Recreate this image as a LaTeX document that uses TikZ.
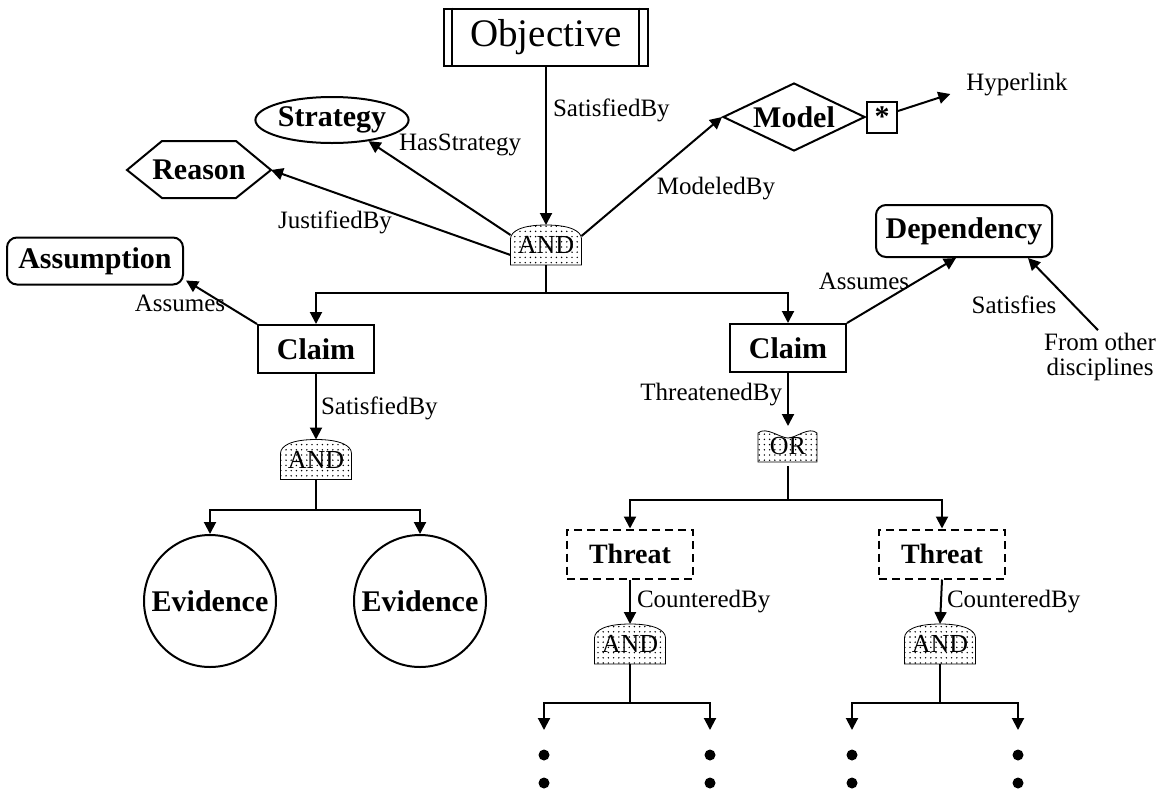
\documentclass[tikz,border=0pt]{standalone}
\usepackage{fontspec}
\setmainfont{Liberation Serif}
\usetikzlibrary{arrows.meta,shapes.geometric,patterns.meta,calc,backgrounds}
\tikzset{
  arr/.style={-{Triangle[length=6pt,width=6pt]}},
  lab/.style={font=\fontsize{12.5}{14}\selectfont, inner sep=1pt},
  ttl/.style={font=\fontsize{15}{17}\selectfont\bfseries},
  box/.style={draw, ttl, inner sep=0pt},
  gate/.style={font=\fontsize{13}{15}\selectfont, minimum width=34.5pt, minimum height=19pt, inner sep=0pt},
  dotfill/.style={pattern={Dots[radius=0.4pt,distance=2.6pt]}},
  dotnode/.style={circle, fill, inner sep=0pt, minimum size=5.5pt},
}
\newcommand{\andgate}[1]{%
  \begin{scope}[on background layer]
  \draw[dotfill] (#1.south west) -- ($(#1.south west)+(0,13pt)$)
     .. controls +(0,4pt) and +(-12pt,0) .. (#1.north)
     .. controls +(12pt,0) and +(0,4pt) .. ($(#1.south east)+(0,13pt)$)
     -- (#1.south east) -- cycle;
  \end{scope}}
\begin{document}
\begin{tikzpicture}[x=0.5pt,y=-0.5pt,line width=1pt]
\useasboundingbox (0,0) rectangle (1156,793);

% Objective
\node[draw, minimum width=102pt, minimum height=28.5pt, inner sep=0pt,
      font=\fontsize{19.5}{22}\selectfont] (obj) at (546,37) {Objective};
\draw ([xshift=4.5pt]obj.north west) -- ([xshift=4.5pt]obj.south west);
\draw ([xshift=-5pt]obj.north east) -- ([xshift=-5pt]obj.south east);

% top AND
\node[gate] (a1) at (546,245) {AND};
\andgate{a1}
\draw[arr] (obj.south) -- (a1.north);
\node[lab, anchor=west] (lsat1) at (550,110) {SatisfiedBy};

% Strategy
\node[draw, ellipse, ttl, minimum width=72.5pt, minimum height=23pt, inner sep=0pt] (strategy) at (332,120) {Strategy};
\draw[arr] ([yshift=5pt]a1.west) -- (strategy.-30);
\node[lab, anchor=west] (lhas) at (396,145) {HasStrategy};

% Reason
\node[ttl, inner sep=0pt] (reason) at (199,170) {Reason};
\draw (127,170) -- (162,141) -- (236,141) -- (271,170) -- (236,198) -- (162,198) -- cycle;
\coordinate (reasonR) at (271,170);
\draw[arr] ([yshift=-5pt]a1.west) -- (reasonR);
\node[lab] (ljust) at (335,222) {JustifiedBy};

% Model
\node[draw, diamond, ttl, minimum width=71pt, minimum height=34pt, inner sep=0pt, aspect=2] (model) at (794,117) {Model};
\node[draw, font=\fontsize{15}{17}\selectfont\bfseries, minimum width=15pt, minimum height=15.5pt, inner sep=0pt, anchor=west] (star) at (model.east) {*};
\draw[arr] ([yshift=4.5pt]a1.east) -- (model.west);
\node[lab] (lmod) at (716,189) {ModeledBy};
\node[lab] (hyper) at (1017,85) {Hyperlink};
\draw[arr] ([yshift=3pt]star.east) -- ([shift={(-6.5pt,-4.5pt)}]hyper.west);

% Claims
\node[box, minimum width=58pt, minimum height=24pt] (c1) at (316,349) {Claim};
\node[box, minimum width=58pt, minimum height=24pt] (c2) at (788,348) {Claim};
\coordinate (j1) at (546,293);
\draw (a1.south) -- (j1);
\draw[arr] (j1) -| (c1.north);
\draw[arr] (j1) -| (c2.north);

% Assumption
\node[box, rounded corners=5pt, minimum width=88pt, minimum height=23.5pt] (assum) at (95,261) {Assumption};
\draw[arr] (c1.north west) -- ([shift={(1pt,2.5pt)}]assum.south east);
\node[lab] (lassL) at (180,303) {Assumes};

% Dependency
\node[box, rounded corners=5pt, minimum width=88pt, minimum height=26pt] (dep) at (964,231) {Dependency};
\draw[arr] (c2.north east) -- ([xshift=-4pt]dep.south);
\node[lab] (lassR) at (864,281) {Assumes};
\node[lab] (lsatis) at (1014,305) {Satisfies};
\node[lab, align=center, font=\fontsize{12.5}{12.5}\selectfont] (fromother) at (1100,357) {From other\\disciplines};
\draw[arr] ([xshift=-1pt]fromother.north) -- ([xshift=32pt]dep.south);

% Left subtree
\node[gate] (a2) at (316,459.5) {AND};
\andgate{a2}
\draw[arr] (c1.south) -- (a2.north);
\node[lab, anchor=west] (lsat2) at (318,408) {SatisfiedBy};
\coordinate (j2) at (316,510);
\draw (a2.south) -- (j2);
\node[draw, circle, ttl, minimum size=66pt, inner sep=0pt] (ev1) at (210,601) {Evidence};
\node[draw, circle, ttl, minimum size=66pt, inner sep=0pt] (ev2) at (420,601) {Evidence};
\draw[arr] (j2) -| (ev1.north);
\draw[arr] (j2) -| (ev2.north);

% Right subtree
\node[gate] (or1) at (788,446) {OR};
\begin{scope}[on background layer]
\draw[dotfill] (758,462) -- (758,433) .. controls (766,426) and (780,438) .. (788,438)
   .. controls (796,438) and (809,426) .. (817,433) -- (817,462) -- cycle;
\end{scope}
\draw[arr] (c2.south) -- (or1.north);
\node[lab, anchor=east] (lthr) at (785,395) {ThreatenedBy};
\coordinate (j3) at (788,500);
\draw (or1.south) -- (j3);
\node[draw, dashed, dash pattern=on 4pt off 2.5pt, ttl, font=\fontsize{14}{16}\selectfont\bfseries, minimum width=63pt, minimum height=24.5pt, inner sep=0pt] (t1) at (630,554) {Threat};
\node[draw, dashed, dash pattern=on 4pt off 2.5pt, ttl, font=\fontsize{14}{16}\selectfont\bfseries, minimum width=63pt, minimum height=24.5pt, inner sep=0pt] (t2) at (942,554) {Threat};
\draw[arr] (j3) -| (t1.north);
\draw[arr] (j3) -| (t2.north);

\node[gate] (a3) at (630,644) {AND};
\andgate{a3}
\draw[arr] (t1.south) -- (a3.north);
\node[lab, anchor=west] (lc1) at (634,602) {CounteredBy};
\node[gate] (a4) at (940,644) {AND};
\andgate{a4}
\draw[arr] (t2.south) -- (a4.north);
\node[lab, anchor=west] (lc2) at (944,602) {CounteredBy};

\coordinate (j4) at (630,703);
\coordinate (e1) at (544,730);
\coordinate (e2) at (710,730);
\draw (a3.south) -- (j4);
\draw[arr] (j4) -| (e1);
\draw[arr] (j4) -| (e2);
\coordinate (j5) at (940,703);
\coordinate (e3) at (852,730);
\coordinate (e4) at (1018,730);
\draw (a4.south) -- (j5);
\draw[arr] (j5) -| (e3);
\draw[arr] (j5) -| (e4);

\node[dotnode] (d1) at (544,755) {};
\node[dotnode] (d2) at (544,783) {};
\node[dotnode] (d3) at (710,755) {};
\node[dotnode] (d4) at (710,783) {};
\node[dotnode] (d5) at (852,755) {};
\node[dotnode] (d6) at (852,783) {};
\node[dotnode] (d7) at (1018,755) {};
\node[dotnode] (d8) at (1018,783) {};
\end{tikzpicture}
\end{document}
